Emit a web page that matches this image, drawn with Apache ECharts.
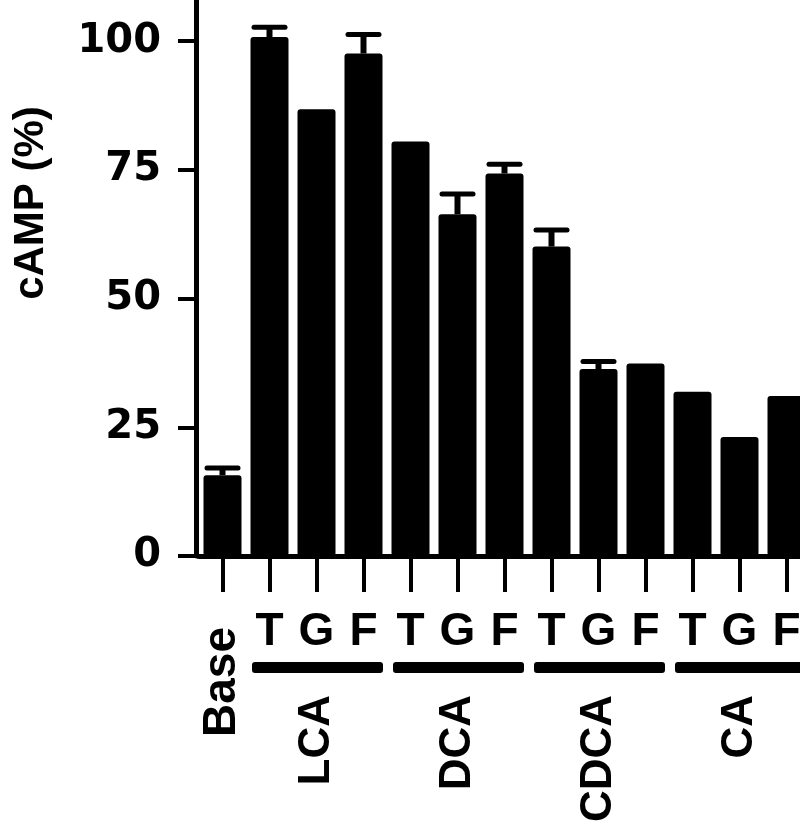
<!DOCTYPE html>
<html><head><meta charset="utf-8">
<script src="https://cdn.jsdelivr.net/npm/echarts@6/dist/echarts.min.js"></script>
<style>html,body{margin:0;padding:0;background:#fff}#c{width:800px;height:832px}</style>
</head><body><div id="c"></div>
<script>
const categories = ['Base','LCA-T','LCA-G','LCA-F','DCA-T','DCA-G','DCA-F','CDCA-T','CDCA-G','CDCA-F','CA-T','CA-G','CA-F'];
const tickLabels = ['', 'T','G','F','T','G','F','T','G','F','T','G','F'];
const baseLabel = 'Base';
const values = [15.7, 100.8, 86.8, 97.6, 80.5, 66.4, 74.3, 60.1, 36.3, 37.4, 31.9, 23.1, 31.1];
const errors = [1.4, 1.9, 0, 3.7, 0, 3.9, 1.8, 3.2, 1.5, 0, 0, 0, 0];
const groups = ['LCA','DCA','CDCA','CA'];
const groupStart = [1, 4, 7, 10];
const groupEnd = [3, 6, 9, 12];
const yTicks = [0, 25, 50, 75, 100];
const yTitle = 'cAMP (%)';

const groupLabelAt = categories.map(() => '');
groups.forEach((g, k) => { groupLabelAt[Math.round((groupStart[k] + groupEnd[k]) / 2)] = g; });

const FONT = 'Liberation Sans, Arial, sans-serif';
const chart = echarts.init(document.getElementById('c'), null, {renderer: 'canvas'});

const hiddenAxis = {
  type: 'category', data: categories, gridIndex: 0, position: 'bottom',
  axisLine: {show: false}, axisTick: {show: false}, splitLine: {show: false}
};

chart.setOption({
  animation: false,
  backgroundColor: '#fff',
  grid: {left: 199, width: 611, top: 0, height: 556, containLabel: false, outerBoundsMode: 'none'},
  graphic: [{
    type: 'text', x: 31, y: 203, rotation: Math.PI / 2,
    style: {text: yTitle, fill: '#000', font: 'bold 42px ' + FONT, textAlign: 'center', textVerticalAlign: 'middle'}
  }],
  xAxis: [
    {
      type: 'category', data: categories, gridIndex: 0, position: 'bottom',
      axisLine: {show: true, lineStyle: {color: '#000', width: 5}},
      axisTick: {show: true, alignWithLabel: true, interval: 0, length: 36, lineStyle: {color: '#000', width: 4}},
      axisLabel: {interval: 0, margin: 53, color: '#000', fontFamily: FONT, fontWeight: 'bold', fontSize: 46,
        formatter: (v, i) => tickLabels[i]},
      splitLine: {show: false}
    },
    Object.assign({}, hiddenAxis, {
      axisLabel: {interval: 0, rotate: 90, margin: 71, color: '#000', fontFamily: FONT, fontWeight: 'bold', fontSize: 46,
        formatter: (v, i) => (i === 0 ? baseLabel : '')}
    }),
    Object.assign({}, hiddenAxis, {
      axisLabel: {interval: 0, rotate: 90, margin: 139, color: '#000', fontFamily: FONT, fontWeight: 'bold', fontSize: 44,
        formatter: (v, i) => groupLabelAt[i]}
    })
  ],
  yAxis: {
    type: 'value', min: 0, max: 108, offset: 3,
    axisLine: {show: true, lineStyle: {color: '#000', width: 5}},
    axisTick: {show: true, length: 18, customValues: yTicks, lineStyle: {color: '#000', width: 4}},
    axisLabel: {customValues: yTicks, margin: 35, color: '#000', fontFamily: 'DejaVu Sans', fontWeight: 'bold', fontSize: 40},
    splitLine: {show: false}
  },
  series: [
    {
      type: 'bar', xAxisIndex: 0, data: values, barWidth: 38,
      itemStyle: {color: '#000', borderRadius: 3}
    },
    {
      type: 'custom', xAxisIndex: 0, silent: true, clip: false,
      data: values.map((v, i) => [i, v, errors[i]]),
      encode: {x: 0, y: 1},
      renderItem: function (params, api) {
        const i = api.value(0), v = api.value(1), e = api.value(2);
        if (!e) return null;
        const top = api.coord([i, v]);
        const cap = api.coord([i, v + e]);
        const hw = 18;
        return {type: 'group', children: [
          {type: 'rect', shape: {x: top[0] - 3, y: cap[1], width: 6, height: top[1] - cap[1]}, style: {fill: '#000'}},
          {type: 'rect', shape: {x: cap[0] - hw, y: cap[1] - 2.5, width: 2 * hw, height: 5, r: 2.5}, style: {fill: '#000'}}
        ]};
      }
    },
    {
      type: 'custom', xAxisIndex: 0, silent: true, clip: false,
      data: groups.map((g, k) => [groupStart[k], groupEnd[k], 0]),
      encode: {x: [0, 1], y: 2},
      renderItem: function (params, api) {
        const p1 = api.coord([api.value(0), 0]);
        const p2 = api.coord([api.value(1), 0]);
        const bw = api.size([1, 0])[0];
        const x1 = p1[0] - bw / 2 + 6, x2 = p2[0] + bw / 2 - 4;
        return {type: 'rect', shape: {x: x1, y: p1[1] + 106, width: x2 - x1, height: 11, r: 3}, style: {fill: '#000'}};
      }
    }
  ]
});
</script>
</body></html>
